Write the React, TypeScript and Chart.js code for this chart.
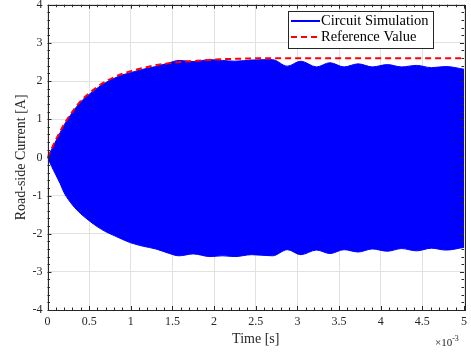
import React, { useEffect, useRef } from 'react';
import { Chart, registerables } from 'chart.js';

Chart.register(...registerables);

// Envelope of the (very high frequency) circuit simulation current, time in ms
const envTime = [0, 0.05, 0.1, 0.15, 0.2, 0.3, 0.4, 0.5, 0.6, 0.7, 0.8, 0.9, 1.0, 1.15, 1.3, 1.45, 1.58, 1.75, 1.95, 2.1, 2.25, 2.45, 2.7, 2.88, 3.04, 3.23, 3.39, 3.56, 3.73, 3.9, 4.08, 4.25, 4.43, 4.61, 4.78, 5.0];
const envUpper = [0, 0.21, 0.43, 0.64, 0.85, 1.18, 1.46, 1.65, 1.82, 1.96, 2.07, 2.16, 2.22, 2.31, 2.38, 2.47, 2.54, 2.51, 2.56, 2.54, 2.52, 2.55, 2.56, 2.39, 2.52, 2.37, 2.48, 2.37, 2.45, 2.37, 2.43, 2.37, 2.41, 2.35, 2.38, 2.31];
const envLower = [0, -0.24, -0.46, -0.68, -0.93, -1.25, -1.48, -1.66, -1.82, -1.95, -2.05, -2.15, -2.24, -2.33, -2.4, -2.51, -2.58, -2.53, -2.6, -2.58, -2.6, -2.55, -2.58, -2.42, -2.55, -2.43, -2.52, -2.42, -2.48, -2.4, -2.46, -2.39, -2.45, -2.38, -2.43, -2.36];

// Reference value curve
const refTime = [0, 0.05, 0.1, 0.15, 0.2, 0.3, 0.4, 0.5, 0.6, 0.7, 0.8, 0.9, 1.0, 1.2, 1.4, 1.6, 1.8, 2.0, 2.2, 2.4, 2.6, 2.8, 3.0, 5.0];
const refValue = [0, 0.23, 0.46, 0.67, 0.87, 1.2, 1.48, 1.68, 1.85, 1.99, 2.1, 2.19, 2.26, 2.37, 2.45, 2.5, 2.53, 2.56, 2.58, 2.59, 2.6, 2.6, 2.6, 2.6];

// Axis ticks
const xTicks = [0, 0.5, 1, 1.5, 2, 2.5, 3, 3.5, 4, 4.5, 5];
const yTicks = [-4, -3, -2, -1, 0, 1, 2, 3, 4];
const xMinorStep = 0.1;
const yMinorStep = 0.2;

const seriesLabels = ['Circuit Simulation', 'Reference Value'];
const xTitle = 'Time [s]';
const yTitle = 'Road-side Current [A]';
const xExponent = '-3';

const FONT = "'Liberation Serif', 'DejaVu Serif', serif";
const AX = '#262626';

const matlabPlugin = {
  id: 'matlabAxes',
  afterDraw(chart: any) {
    const { ctx, chartArea, scales } = chart;
    const { left, right, top, bottom } = chartArea;
    const xs = scales.x;
    const ys = scales.y;
    ctx.save();
    ctx.strokeStyle = AX;
    ctx.lineWidth = 1;
    const r = (v: number) => Math.round(v) + 0.5;
    ctx.beginPath();
    const xmin = xTicks[0], xmax = xTicks[xTicks.length - 1];
    const nX = Math.round((xmax - xmin) / xMinorStep);
    for (let i = 0; i <= nX; i++) {
      const v = xmin + i * xMinorStep;
      const isMajor = xTicks.some((t) => Math.abs(t - v) < 1e-9);
      const len = isMajor ? 4 : 2.5;
      const px = r(xs.getPixelForValue(v));
      ctx.moveTo(px, bottom);
      ctx.lineTo(px, bottom - len);
      ctx.moveTo(px, top);
      ctx.lineTo(px, top + len);
    }
    const ymin = yTicks[0], ymax = yTicks[yTicks.length - 1];
    const nY = Math.round((ymax - ymin) / yMinorStep);
    for (let i = 0; i <= nY; i++) {
      const v = ymin + i * yMinorStep;
      const isMajor = yTicks.some((t) => Math.abs(t - v) < 1e-9);
      const len = isMajor ? 4 : 2.5;
      const py = r(ys.getPixelForValue(v));
      ctx.moveTo(left, py);
      ctx.lineTo(left + len, py);
      ctx.moveTo(right, py);
      ctx.lineTo(right - len, py);
    }
    ctx.stroke();
    ctx.strokeRect(r(left), r(top), Math.round(right - left), Math.round(bottom - top));

    // legend
    const ds = chart.data.datasets;
    const lx = 288.5, ly = 11.5, lw = 145, lh = 37;
    ctx.fillStyle = '#ffffff';
    ctx.fillRect(lx, ly, lw, lh);
    ctx.strokeStyle = AX;
    ctx.strokeRect(lx, ly, lw, lh);
    const rows = [
      { label: seriesLabels[0], color: ds[1].borderColor, dash: [] as number[] },
      { label: seriesLabels[1], color: ds[0].borderColor, dash: ds[0].borderDash },
    ];
    ctx.font = `14.5px ${FONT}`;
    ctx.textBaseline = 'middle';
    ctx.textAlign = 'left';
    rows.forEach((row, i) => {
      const cy = 21 + i * 16;
      ctx.beginPath();
      ctx.setLineDash(row.dash);
      ctx.strokeStyle = row.color;
      ctx.lineWidth = 2;
      ctx.moveTo(291, cy);
      ctx.lineTo(320, cy);
      ctx.stroke();
      ctx.setLineDash([]);
      ctx.fillStyle = '#000000';
      ctx.fillText(row.label, 321, cy + 0.5);
    });

    // exponent
    ctx.fillStyle = AX;
    ctx.textBaseline = 'alphabetic';
    ctx.font = `11px ${FONT}`;
    ctx.fillText('\u00d710', 435, 346);
    const w = ctx.measureText('\u00d710').width;
    ctx.font = `8px ${FONT}`;
    ctx.fillText(xExponent, 435 + w, 341);
    ctx.restore();
  },
};

export default function App() {
  const ref = useRef<HTMLCanvasElement | null>(null);
  useEffect(() => {
    document.body.style.margin = '0';
    const canvas = ref.current;
    if (!canvas) return;
    const chart = new Chart(canvas, {
      type: 'line',
      data: {
        datasets: [
          {
            label: seriesLabels[1],
            data: refTime.map((t, i) => ({ x: t, y: refValue[i] })),
            borderColor: '#ff0000',
            borderWidth: 2,
            borderDash: [6, 4],
            pointRadius: 0,
            fill: false,
            cubicInterpolationMode: 'monotone',
          },
          {
            label: seriesLabels[0],
            data: envTime.map((t, i) => ({ x: t, y: envUpper[i] })),
            borderColor: '#0000ff',
            backgroundColor: '#0000ff',
            borderWidth: 1,
            pointRadius: 0,
            fill: '+1',
            cubicInterpolationMode: 'monotone',
          },
          {
            label: seriesLabels[0] + ' (lower)',
            data: envTime.map((t, i) => ({ x: t, y: envLower[i] })),
            borderColor: '#0000ff',
            backgroundColor: '#0000ff',
            borderWidth: 1,
            pointRadius: 0,
            fill: false,
            cubicInterpolationMode: 'monotone',
          },
        ] as any,
      },
      options: {
        animation: false,
        responsive: false,
        events: [],
        layout: { padding: { left: 0, top: 4.7, right: 7, bottom: 0 } },
        plugins: { legend: { display: false }, tooltip: { enabled: false } },
        scales: {
          x: {
            type: 'linear',
            min: xTicks[0],
            max: xTicks[xTicks.length - 1],
            afterBuildTicks: (s: any) => {
              s.ticks = xTicks.map((v) => ({ value: v }));
            },
            afterFit: (s: any) => {
              s.height = 44;
              s.paddingLeft = 0;
              s.paddingRight = 0;
            },
            grid: { color: '#e2e2e2', lineWidth: 1, drawTicks: false },
            border: { display: false },
            ticks: {
              padding: 5,
              color: AX,
              font: { family: FONT, size: 12 },
              maxRotation: 0,
              autoSkip: false,
              callback: (v: any) => String(v),
            },
            title: {
              display: true,
              text: xTitle,
              color: AX,
              font: { family: FONT, size: 14 },
              padding: { top: 0, bottom: 6.6 },
            },
          },
          y: {
            type: 'linear',
            min: yTicks[0],
            max: yTicks[yTicks.length - 1],
            afterBuildTicks: (s: any) => {
              s.ticks = yTicks.map((v) => ({ value: v }));
            },
            afterFit: (s: any) => {
              s.width = 47.5;
              s.paddingTop = 0;
              s.paddingBottom = 0;
            },
            grid: { color: '#e2e2e2', lineWidth: 1, drawTicks: false },
            border: { display: false },
            ticks: {
              padding: 5,
              color: AX,
              font: { family: FONT, size: 12 },
              autoSkip: false,
              callback: (v: any) => String(v),
            },
            title: {
              display: true,
              text: yTitle,
              color: AX,
              font: { family: FONT, size: 14 },
              padding: { top: 12.6, bottom: 0 },
            },
          },
        },
      } as any,
      plugins: [matlabPlugin],
    });
    return () => chart.destroy();
  }, []);
  return (
    <div style={{ width: 471, height: 354 }}>
      <canvas ref={ref} width={471} height={354} style={{ display: 'block' }} />
    </div>
  );
}
